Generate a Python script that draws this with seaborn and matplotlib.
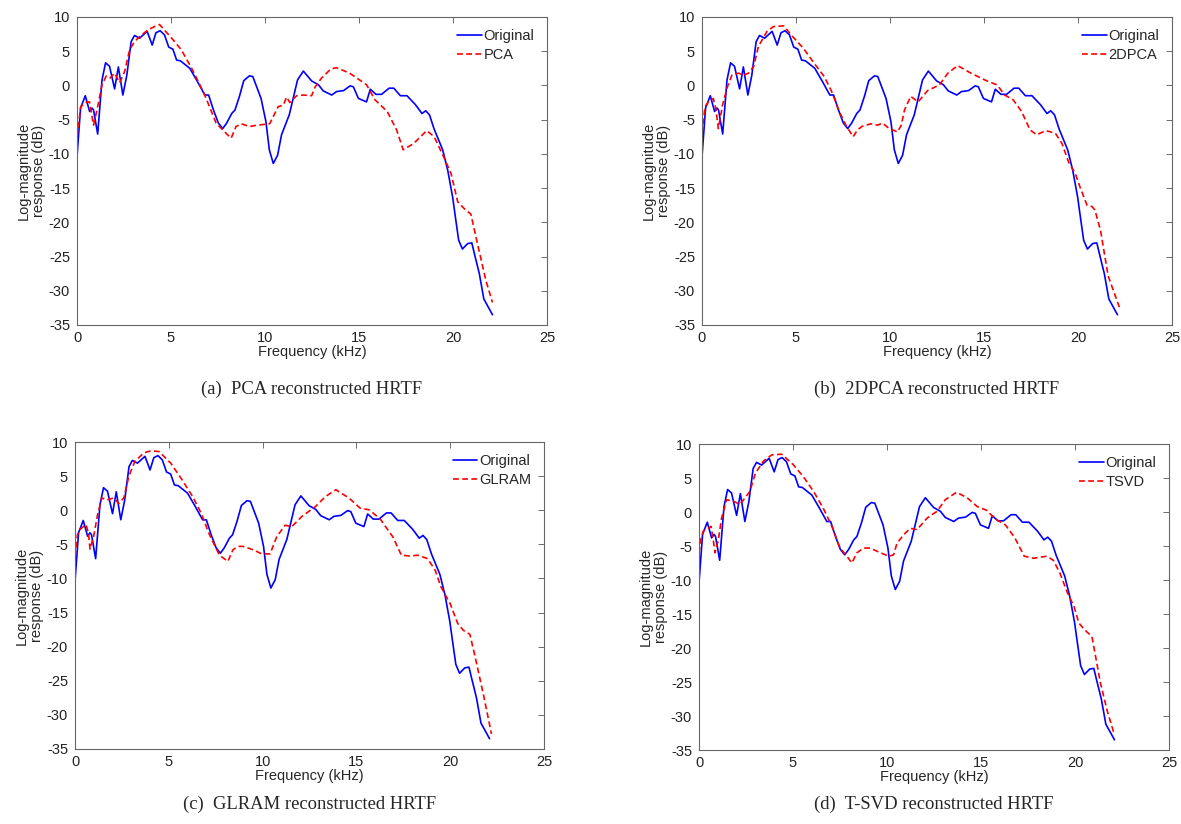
import numpy as np
import pandas as pd
import matplotlib
matplotlib.use("Agg")
import matplotlib.pyplot as plt
import seaborn as sns

# ---------------- data ----------------
orig_f = [0, 0.19, 0.44, 0.67, 0.8, 0.88, 1.1, 1.33, 1.52, 1.73, 2.0, 2.2, 2.44, 2.65, 2.88, 3.06, 3.33,
          3.73, 4.0, 4.2, 4.42, 4.65, 4.88, 5.1, 5.3, 5.5, 6.0, 6.4, 6.8, 7.0, 7.26, 7.52, 7.75, 7.96, 8.23,
          8.4, 8.64, 8.87, 9.17, 9.35, 9.79, 10.05, 10.23, 10.44, 10.67, 10.88, 11.29, 11.73, 12.04, 12.48,
          12.84, 13.1, 13.55, 13.8, 14.18, 14.53, 14.7, 14.97, 15.4, 15.6, 15.9, 16.2, 16.6, 16.85, 17.2,
          17.55, 18.0, 18.35, 18.55, 18.75, 19.0, 19.45, 19.72, 19.98, 20.1, 20.3, 20.5, 20.78, 21.0, 21.14,
          21.4, 21.64, 22.1]
orig_db = [-10.4, -3.3, -1.5, -3.8, -3.3, -3.6, -7.1, 0.8, 3.3, 2.8, -0.5, 2.7, -1.4, 1.5, 6.4, 7.3, 6.9,
           7.9, 5.9, 7.7, 8.0, 7.4, 5.6, 5.3, 3.7, 3.6, 2.5, 0.6, -1.4, -1.4, -3.6, -5.5, -6.3, -5.5, -4.1,
           -3.6, -1.6, 0.7, 1.4, 1.3, -1.9, -5.3, -9.4, -11.4, -10.2, -7.2, -4.3, 0.8, 2.1, 0.66,
           0.1, -0.8, -1.4, -0.9, -0.75, -0.06, -0.2, -1.9, -2.4, -0.55, -1.3, -1.3, -0.4, -0.4, -1.5,
           -1.5, -2.8, -4.1, -3.7, -4.3, -6.4, -9.4, -12.4, -16.3, -18.7, -22.6, -23.9, -23.1, -23.0, -24.6,
           -27.5, -31.2, -33.5]

pca_f = [0, 0.2, 0.44, 0.67, 0.88, 1.1, 1.33, 1.56, 1.77, 2.0, 2.27, 2.53, 2.8, 3.06, 3.4, 3.77, 4.12, 4.39,
         4.65, 5.1, 5.55, 6.1, 6.5, 6.87, 7.4, 7.93, 8.2, 8.46, 8.73, 9.17, 9.6, 10.25, 10.7, 10.97, 11.15,
         11.32, 11.68, 12.04, 12.48, 12.66, 13.0, 13.5, 13.8, 14.5, 15.4, 15.85, 16.5, 17.0, 17.35, 17.9,
         18.6, 19.0, 19.5, 19.9, 20.25, 20.6, 20.95, 21.3, 21.75, 22.1]
pca_db = [-7.5, -3.1, -2.5, -2.4, -5.8, -3.1, 0.1, 1.4, 1.1, 1.8, 0.4, 2.0, 5.2, 6.4, 7.3, 8.1, 8.6, 8.9,
          8.1, 6.7, 5.2, 2.5, 0.3, -1.9, -5.5, -7.0, -7.7, -6.0, -5.6, -6.0, -5.8, -5.6, -3.1, -2.9, -1.7,
          -2.5, -1.5, -1.4, -1.5, -0.26, 1.06, 2.4, 2.6, 1.8, 0.1, -2.1, -3.8, -6.5, -9.4, -8.5,
          -6.6, -7.5, -10.4, -12.9, -17.0, -18.0, -18.8, -23.1, -28.5, -31.7]

dpca_f = [0, 0.16, 0.34, 0.6, 0.73, 0.87, 1.09, 1.35, 1.59, 1.94, 2.2, 2.48, 2.75, 3.0, 3.46, 3.8, 4.35, 4.8,
          5.4, 5.95, 6.5, 6.9, 7.3, 7.65, 8.04, 8.27, 8.5, 8.98, 9.34, 9.6, 9.96, 10.4, 10.6, 10.77, 11.1,
          11.5, 12.0, 12.63, 13.08, 13.6, 14.3, 15.2, 15.7, 16.1, 16.55, 17.0, 17.45, 17.8, 18.3, 18.8,
          19.15, 19.5, 19.86, 20.1, 20.48, 20.75, 20.9, 21.2, 21.6, 22.2]
dpca_db = [-7.0, -3.1, -2.4, -1.9, -3.3, -6.3, -2.9, -0.2, 1.5, 1.8, 1.5, 1.8, 2.8, 5.7, 7.9, 8.6, 8.7, 7.2,
           5.4, 3.3, 1.3, -0.9, -3.8, -5.8, -7.5, -6.5, -6.0, -5.6, -5.8, -5.5, -6.3, -6.8, -5.8, -3.6, -1.6,
           -2.4, -0.75, 0.08, 1.8, 2.9, 1.8, 0.6, 0.08, -1.4, -2.1, -3.8, -6.5, -7.2, -6.6, -7.0,
           -8.5, -11.2, -12.9, -14.8, -17.5, -17.7, -18.2, -21.2, -27.8, -32.4]

glram_f = [0, 0.13, 0.27, 0.59, 0.72, 0.8, 0.99, 1.2, 1.43, 1.7, 2.06, 2.33, 2.6, 2.87, 3.2, 3.67, 4.03, 4.48,
           5.1, 5.65, 6.27, 6.72, 7.17, 7.7, 8.15, 8.42, 8.7, 8.96, 9.5, 9.95, 10.4, 10.75, 11.2, 11.56, 12.1,
           12.8, 13.35, 13.9, 14.6, 15.2, 15.7, 16.3, 16.94, 17.4, 17.83, 18.28, 18.8, 19.2, 19.5, 20.0,
           20.4, 20.7, 21.05, 21.33, 21.8, 22.2]
glram_db = [-6.8, -3.6, -2.8, -2.1, -3.4, -5.7, -3.9, -0.7, 1.8, 1.5, 1.8, 1.0, 1.8, 5.0, 7.2, 8.4, 8.7, 8.6,
            6.9, 4.7, 2.0, -0.4, -3.6, -6.6, -7.5, -5.8, -5.3, -5.3, -5.8, -6.4, -6.4, -3.9, -2.2, -2.4, -0.9,
            0.5, 2.0, 3.0, 1.8, 0.3, 0.05, -1.4, -3.9, -6.6, -6.7, -6.6, -7.1, -8.8, -11.2, -13.7,
            -16.6, -17.6, -18.2, -21.5, -27.4, -32.8]

tsvd_f = [0, 0.09, 0.23, 0.5, 0.64, 0.76, 0.85, 1.03, 1.2, 1.47, 1.83, 2.18, 2.45, 2.7, 3.0, 3.43, 3.87, 4.4,
          5.0, 5.55, 6.1, 6.6, 7.07, 7.5, 7.87, 8.13, 8.4, 8.75, 9.1, 9.65, 10.1, 10.35, 10.53, 10.9, 11.24,
          11.6, 12.13, 12.66, 13.1, 13.7, 14.26, 14.8, 15.3, 15.75, 16.3, 16.8, 17.3, 17.8, 18.5, 18.85,
          19.2, 19.6, 19.95, 20.2, 20.5, 20.9, 21.35, 21.7, 22.1]
tsvd_db = [-6.0, -4.1, -2.8, -2.4, -2.1, -4.1, -6.0, -4.1, -0.9, 1.8, 1.6, 1.1, 2.1, 3.0, 5.7, 7.5, 8.4, 8.5,
           7.0, 5.2, 3.0, 0.6, -2.1, -5.3, -6.5, -7.5, -6.0, -5.3, -5.3, -6.0, -6.5, -6.3, -4.6, -3.3, -2.4,
           -2.6, -0.9, 0.1, 1.8, 2.9, 2.1, 0.8, 0.25, -1.0, -1.9, -3.8, -6.5, -6.8, -6.5, -7.1,
           -9.0, -11.9, -13.9, -16.3, -17.3, -18.3, -25.1, -29.1, -32.8]

method_names = ["PCA", "2DPCA", "GLRAM", "TSVD"]
captions = ["(a)  PCA reconstructed HRTF", "(b)  2DPCA reconstructed HRTF",
            "(c)  GLRAM reconstructed HRTF", "(d)  T-SVD reconstructed HRTF"]
x_ticks = [0, 5, 10, 15, 20, 25]
y_ticks = [10, 5, 0, -5, -10, -15, -20, -25, -30, -35]

recon = {"PCA": (pca_f, pca_db), "2DPCA": (dpca_f, dpca_db),
         "GLRAM": (glram_f, glram_db), "TSVD": (tsvd_f, tsvd_db)}

# ---------------- style ----------------
sns.set_theme(style="white")
plt.rcParams['font.family'] = ['Liberation Sans', 'DejaVu Sans']
plt.rcParams.update({
    "axes.unicode_minus": False,
    "xtick.direction": "in", "ytick.direction": "in",
    "xtick.top": True, "ytick.right": True,
    "xtick.major.size": 4, "ytick.major.size": 4,
    "xtick.major.width": 0.6, "ytick.major.width": 0.6,
    "xtick.color": "#555555", "ytick.color": "#555555",
    "xtick.labelcolor": "#222222", "ytick.labelcolor": "#222222",
    "axes.edgecolor": "#666666", "axes.linewidth": 0.8,
})

fig = plt.figure(figsize=(11.81, 8.24), dpi=100)
W, H = 1181, 824
boxes = [(77, 17, 547, 325), (702, 17, 1172, 325), (75, 442, 544, 749), (699, 444, 1169, 750)]
cap_y = [389, 389, 804, 804]

for i, name in enumerate(method_names):
    l, t, r, b = boxes[i]
    aw, ah = r - l, b - t
    ax = fig.add_axes([l / W, 1 - b / H, aw / W, ah / H])
    rf, rdb = recon[name]
    df = pd.concat([
        pd.DataFrame({"f": orig_f, "db": orig_db, "series": "Original"}),
        pd.DataFrame({"f": rf, "db": rdb, "series": name}),
    ], ignore_index=True)
    sns.lineplot(data=df, x="f", y="db", hue="series", style="series",
                 palette={"Original": "#0000ff", name: "#ff0000"},
                 dashes={"Original": "", name: (3.5, 2)},
                 sort=False, estimator=None, linewidth=1.2, ax=ax, legend=False)
    # legend proxies
    h1, = ax.plot([], [], color="#0000ff", lw=1.2, label="Original")
    h2, = ax.plot([], [], color="#ff0000", lw=1.2, ls=(0, (3.5, 2)), label=name)
    ax.legend(handles=[h1, h2], loc="upper right", frameon=False, fontsize=10.5,
              handlelength=1.65, handletextpad=0.15, labelspacing=0.3,
              borderaxespad=0.55, borderpad=0.3)
    ax.set_xlim(0, 25)
    ax.set_ylim(-35, 10)
    ax.set_xticks(x_ticks)
    ax.set_yticks(y_ticks)
    ax.tick_params(axis="x", labelsize=10.5, pad=4)
    ax.tick_params(axis="y", labelsize=10.5, pad=5)
    ax.set_xlabel("Frequency (kHz)", fontsize=10.5)
    ax.set_ylabel("Log-magnitude\nresponse (dB)", fontsize=10.5, linespacing=1.1)
    ax.xaxis.set_label_coords(0.5, -20 / ah)
    ax.yaxis.set_label_coords(-31 / aw, 0.5)
    fig.text((l + r) / 2 / W, 1 - cap_y[i] / H, captions[i], ha="center", va="center",
             fontsize=13.4, family=["Liberation Serif", "DejaVu Serif"])

fig.savefig("out.png", dpi=100)
